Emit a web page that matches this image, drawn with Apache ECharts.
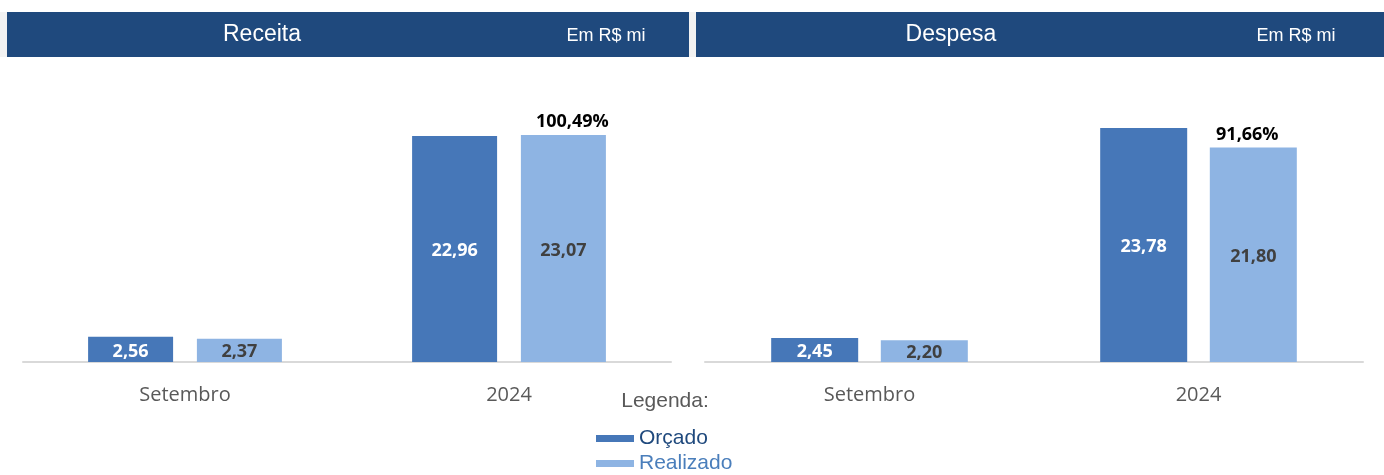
<!DOCTYPE html>
<html>
<head>
<meta charset="utf-8">
<script src="https://cdn.jsdelivr.net/npm/echarts@6/dist/echarts.min.js"></script>
<style>
  html, body { margin: 0; padding: 0; background: #ffffff; }
  #chart { width: 1384px; height: 475px; }
</style>
</head>
<body>
<div id="chart"></div>
<script>
// Categories and values (R$ milhões)
const categories = ['Setembro', '2024'];
const receitaOrcado = [2.56, 22.96];
const receitaRealizado = [2.37, 23.07];
const receitaPercent = [null, 100.49];
const despesaOrcado = [2.45, 23.78];
const despesaRealizado = [2.20, 21.80];
const despesaPercent = [null, 91.66];

const C_ORC = '#4677b8';
const C_REA = '#8eb4e3';
const NAVY = '#1f497d';
const LABEL_FONT = '"Open Sans", "Noto Sans", sans-serif';
const HEAD_FONT = '"Liberation Sans", Arial, sans-serif';

const fmt = v => v.toFixed(2).replace('.', ',');

const chart = echarts.init(document.getElementById('chart'));

const grids = [
  { left: 23, width: 648, top: 116, height: 246 },
  { left: 705, width: 658, top: 116, height: 246 }
];

function xAxes(gridIndex, visible) {
  return {
    type: 'category', gridIndex, data: categories, show: visible,
    axisLine: { show: visible, lineStyle: { color: '#d9d9d9', width: 2 } },
    axisTick: { show: false },
    axisLabel: { show: visible, color: '#595959', fontSize: 20, fontFamily: LABEL_FONT, margin: 23 }
  };
}
function yAxis(gridIndex) {
  return { type: 'value', gridIndex, min: 0, max: 25, show: false };
}

function barPair(xi, yi, orc, rea, bw, gap) {
  return [
    {
      name: 'Orçado', type: 'bar', xAxisIndex: xi, yAxisIndex: yi, data: orc,
      barWidth: bw, barGap: gap, itemStyle: { color: C_ORC },
      label: { show: true, position: 'inside', offset: [0, 2], color: '#ffffff', fontWeight: 'bold',
        fontSize: 18, fontFamily: LABEL_FONT, formatter: p => fmt(p.value) }
    },
    {
      name: 'Realizado', type: 'bar', xAxisIndex: xi, yAxisIndex: yi, data: rea,
      barWidth: bw, barGap: gap, itemStyle: { color: C_REA },
      label: { show: true, position: 'inside', offset: [0, 2], color: '#404040', fontWeight: 'bold',
        fontSize: 18, fontFamily: LABEL_FONT, formatter: p => fmt(p.value) }
    }
  ];
}

// Transparent copies on a hidden axis carrying the execution percentage above "Realizado"
function percentOverlay(xi, yi, orc, rea, pct, bw, gap, dx) {
  return [
    {
      name: 'ghost-orc', type: 'bar', xAxisIndex: xi, yAxisIndex: yi, data: orc,
      barWidth: bw, barGap: gap, itemStyle: { color: 'rgba(0,0,0,0)' }, silent: true
    },
    {
      name: 'ghost-rea', type: 'bar', xAxisIndex: xi, yAxisIndex: yi, data: rea,
      barWidth: bw, barGap: gap, itemStyle: { color: 'rgba(0,0,0,0)' }, silent: true,
      label: { show: true, position: 'top', distance: 4, offset: [dx, 0], color: '#000000', fontWeight: 'bold',
        fontSize: 18, fontFamily: LABEL_FONT,
        formatter: p => pct[p.dataIndex] == null ? '' : fmt(pct[p.dataIndex]) + '%' }
    }
  ];
}

const option = {
  animation: false,
  grid: grids,
  xAxis: [xAxes(0, true), xAxes(1, true), xAxes(0, false), xAxes(1, false)],
  yAxis: [yAxis(0), yAxis(1)],
  legend: {
    left: 596, top: 428, orient: 'vertical', padding: 0,
    itemWidth: 38, itemHeight: 7, itemGap: 4, icon: 'rect',
    selectedMode: false,
    textStyle: { fontSize: 21, fontFamily: HEAD_FONT, lineHeight: 21 },
    data: [
      { name: 'Orçado', textStyle: { color: NAVY } },
      { name: 'Realizado', textStyle: { color: '#4a7ebb' } }
    ]
  },
  graphic: [
    { type: 'rect', shape: { x: 0, y: 12, width: 1384, height: 45 }, style: { fill: '#f2f2f2' }, silent: true },
    { type: 'rect', shape: { x: 7, y: 12, width: 682, height: 45 }, style: { fill: NAVY }, silent: true },
    { type: 'rect', shape: { x: 696, y: 12, width: 688, height: 45 }, style: { fill: NAVY }, silent: true },
    { type: 'text', x: 262, y: 35, style: { text: 'Receita', fill: '#ffffff', font: '23px ' + HEAD_FONT, align: 'center', verticalAlign: 'middle' } },
    { type: 'text', x: 606, y: 36, style: { text: 'Em R$ mi', fill: '#ffffff', font: '18px ' + HEAD_FONT, align: 'center', verticalAlign: 'middle' } },
    { type: 'text', x: 951, y: 35, style: { text: 'Despesa', fill: '#ffffff', font: '23px ' + HEAD_FONT, align: 'center', verticalAlign: 'middle' } },
    { type: 'text', x: 1296, y: 36, style: { text: 'Em R$ mi', fill: '#ffffff', font: '18px ' + HEAD_FONT, align: 'center', verticalAlign: 'middle' } },
    { type: 'text', x: 665, y: 401, style: { text: 'Legenda:', fill: '#595959', font: '21px ' + HEAD_FONT, align: 'center', verticalAlign: 'middle' } }
  ],
  series: [
    ...barPair(0, 0, receitaOrcado, receitaRealizado, 85, '28%'),
    ...barPair(1, 1, despesaOrcado, despesaRealizado, 87, '26%'),
    ...percentOverlay(2, 0, receitaOrcado, receitaRealizado, receitaPercent, 85, '28%', 9),
    ...percentOverlay(3, 1, despesaOrcado, despesaRealizado, despesaPercent, 87, '26%', -6)
  ]
};

chart.setOption(option);
</script>
</body>
</html>
